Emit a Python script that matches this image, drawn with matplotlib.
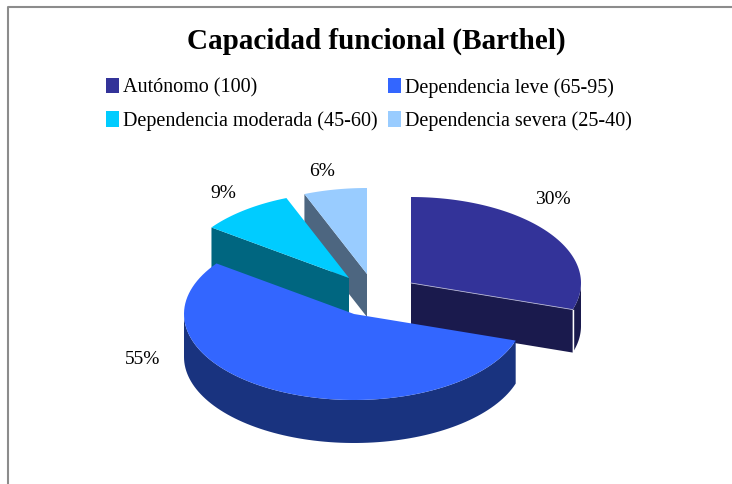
#!/usr/bin/env python3
"""Exploded pseudo-3D pie chart of functional capacity (Barthel)"""

import numpy as np
import matplotlib
matplotlib.use('Agg')
import matplotlib.pyplot as plt
from matplotlib.patches import Patch, Polygon

# Data
title = 'Capacidad funcional (Barthel)'
categories = ['Autónomo (100)', 'Dependencia leve (65-95)',
              'Dependencia moderada (45-60)', 'Dependencia severa (25-40)']
values = [30, 55, 9, 6]

# Styles
top_colors = ['#333399', '#3366FF', '#00CCFF', '#99CCFF']
side_colors = ['#1A1A4D', '#19337F', '#006680', '#4D6680']

# Layout in pixels: where each exploded slice sits, plus the pie's shape
slice_centres = [(411, 283), (354, 314), (349, 278), (367, 274)]
label_positions = [(553, 199), (143, 359), (223, 194), (322, 172)]
A, B = 170, 86
DEPTH = 43


def rim_point(centre, angle):
    """Point on the ellipse, angle in degrees clockwise from 12 o'clock"""
    t = np.radians(angle)
    return centre[0] + A * np.sin(t), centre[1] - B * np.cos(t)


def arc(centre, start, end):
    angles = np.linspace(start, end, 90)
    return np.array([rim_point(centre, a) for a in angles])


def shifted(points):
    return points + np.array([0, DEPTH])


def draw_slice(ax, centre, start, end, top, side, z):
    c = np.array(centre, dtype=float)
    # cut faces, only the ones turned towards the viewer
    cuts = []
    if end < 180:
        cuts.append(end)
    if start > 180:
        cuts.append(start)
    for angle in cuts:
        edge = np.array([c, rim_point(centre, angle)])
        ax.add_patch(Polygon(np.vstack([edge, shifted(edge)[::-1]]),
                             fc=side, ec='none', zorder=z))
    # outer rim, only where it faces the viewer
    lo, hi = max(start, 90), min(end, 270)
    if lo < hi:
        rim = arc(centre, lo, hi)
        ax.add_patch(Polygon(np.vstack([rim, shifted(rim)[::-1]]),
                             fc=side, ec='none', zorder=z))
    ax.add_patch(Polygon(np.vstack([c, arc(centre, start, end)]),
                         fc=top, ec='none', zorder=z + 0.5))


plt.rcParams['font.family'] = ['Liberation Serif', 'DejaVu Serif']

fig = plt.figure(figsize=(7.32, 4.84), dpi=100)
ax = fig.add_axes([0, 0, 1, 1])
ax.set_xlim(0, 732)
ax.set_ylim(484, 0)
ax.axis('off')

# chart frame, running off the right and bottom of the picture
ax.plot([8, 8, 732], [484, 6.5, 6.5], color='#8C8C8C', lw=1.5, zorder=0)

ax.text(376, 41, title, ha='center', va='center', fontsize=21,
        fontweight='bold', color='black')

# slices, back to front
bounds = np.concatenate([[0], np.cumsum(values)]) / sum(values) * 360
for i, z in zip([3, 2, 0, 1], [2, 3, 4, 5]):
    draw_slice(ax, slice_centres[i], bounds[i], bounds[i + 1],
               top_colors[i], side_colors[i], z=z)

# thin white edge where the purple slice's cut face meets its rim
end_pt = np.array(rim_point(slice_centres[0], bounds[1]))
ax.plot([end_pt[0], end_pt[0]], [end_pt[1], end_pt[1] + DEPTH],
        color='white', lw=1, zorder=4.4)
ax.plot([slice_centres[0][0], end_pt[0]], [slice_centres[0][1], end_pt[1]],
        color='#B0B0D0', lw=0.6, zorder=4.6)

for v, (x, y) in zip(values, label_positions):
    ax.text(x, y, f'{v}%', ha='center', va='center', fontsize=14, color='black')

handles = [Patch(fc=c, ec='none', label=n) for c, n in zip(top_colors, categories)]
# matplotlib fills legend columns first, so order the handles for rows
order = [0, 2, 1, 3]
ax.legend([handles[i] for i in order], [categories[i] for i in order],
          ncol=2, loc='upper left', bbox_to_anchor=(106 / 732, 1 - 78 / 484),
          frameon=False, fontsize=14.5, borderpad=0, borderaxespad=0,
          handlelength=0.65, handleheight=0.8, handletextpad=0.2,
          columnspacing=0.5, labelspacing=0.68)

fig.savefig('out.png', dpi=100)
